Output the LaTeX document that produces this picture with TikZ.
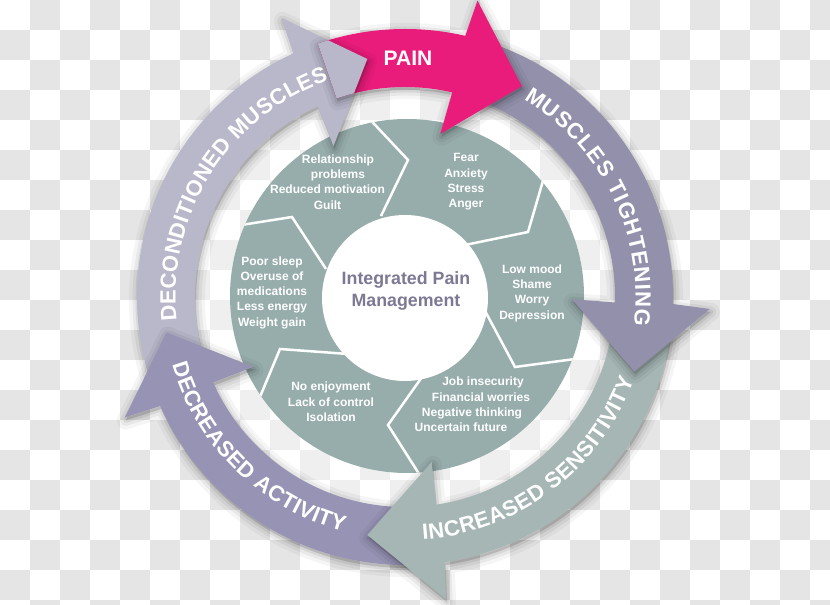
\documentclass[tikz,border=0pt]{standalone}
\usepackage{fontspec}
\setmainfont{Liberation Sans}
\usetikzlibrary{decorations.text}
\definecolor{bggray}{RGB}{229,229,229}
\definecolor{painpink}{RGB}{234,28,123}
\definecolor{mtcol}{RGB}{147,144,171}
\definecolor{iscol}{RGB}{165,182,181}
\definecolor{dacol}{RGB}{151,147,181}
\definecolor{dccol}{RGB}{185,183,202}
\definecolor{disccol}{RGB}{151,173,172}
\definecolor{centertext}{RGB}{125,120,148}
% arc arrow: tail angle, head base angle, tip angle
\newcommand\ringarrow[3]{(#1:268) arc[start angle=#1, end angle=#2, radius=268] -- ({#2-0.75}:305) -- (#3:241) -- ({#2+0.75}:167) -- (#2:210) arc[start angle=#2, end angle=#1, radius=210] -- cycle}
\newcommand\softshadow[1]{%
  \begin{scope}[shift={(1,-3)}]
    \draw[black, opacity=0.04, line width=18pt, line join=round] #1;
    \draw[black, opacity=0.05, line width=11pt, line join=round] #1;
    \draw[black, opacity=0.07, line width=5pt, line join=round] #1;
    \fill[black, opacity=0.14] #1;
  \end{scope}}
\tikzset{
  ringtext/.style={decorate, decoration={text along path, text align={fit to path}, text color=white,
      text={|\bfseries\fontsize{22}{22}\selectfont|#1}}},
  innertext/.style={text=white, font=\bfseries\fontsize{12}{15.3}\selectfont, align=center, inner sep=0pt},
  sepline/.style={white, line width=2.5pt, line join=miter},
}
\begin{document}
\begin{tikzpicture}[x=1pt, y=1pt]
\useasboundingbox (0,0) rectangle (830,605);
% checkerboard background
\begin{scope}
  \clip (0,0) rectangle (830,605);
  \fill[white] (0,0) rectangle (830,605);
  \foreach \i in {0,...,20} {
    \foreach \j in {0,...,27} {
      \pgfmathtruncatemacro\s{mod(\i+\j,2)}
      \ifnum\s=1 \fill[bggray] (30*\j, 575-30*\i) rectangle ++(30,30); \fi
    }
  }
\end{scope}
\coordinate (c) at (405,308);
\coordinate (dc) at (407,309);
% light glow in the gap
\fill[white, opacity=0.4, even odd rule] (c) circle[radius=214] (dc) circle[radius=176];
% inner disc
\begin{scope}
  \fill[disccol] (dc) circle[radius=177];
  \clip (dc) circle[radius=177];
  \draw[sepline] (381,389) -- (408,445) -- (362,494);
  \draw[sepline] (465,360) -- (528,373) -- (545,431);
  \draw[sepline] (484,296) -- (515,238) -- (590,248);
  \draw[sepline] (427,235) -- (388,180) -- (421,128);
  \draw[sepline] (348,251) -- (280,256) -- (257,201);
  \draw[sepline] (326,336) -- (292,388) -- (235,379);
\end{scope}
\fill[white] (405,307) circle[radius=83];
\node[font=\bfseries\fontsize{17.8}{22}\selectfont, text=centertext, align=center] (centre) at (406,314) {Integrated Pain\\Management};
% segment texts
\node[innertext] (rel) at (327.5,423) {\hspace*{21pt}Relationship\\\hspace*{21pt}problems\\Reduced motivation\\Guilt};
\node[innertext] (fear) at (466,423) {Fear\\Anxiety\\Stress\\Anger};
\node[innertext] (low) at (532,312) {Low mood\\Shame\\Worry\\Depression};
\node[innertext] (job) at (472,200.5) {\hspace*{22pt}Job insecurity\\\hspace*{18pt}Financial worries\\Negative thinking\\\hspace*{-22pt}Uncertain future};
\node[innertext] (noenj) at (331,203) {No enjoyment\\Lack of control\\Isolation};
\node[innertext] (poor) at (272,312.4) {Poor sleep\\Overuse of\\medications\\Less energy\\Weight gain};
% ring arrows
\begin{scope}[shift={(c)}]
  \softshadow{\ringarrow{198.5}{114.6}{99}}
  \fill[dccol] \ringarrow{198.5}{114.6}{99};
  \softshadow{\ringarrow{273}{204}{188.5}}
  \fill[dacol] \ringarrow{273}{204}{188.5};
  \softshadow{\ringarrow{-7}{-81.5}{-99}}
  \fill[iscol] \ringarrow{-7}{-81.5}{-99};
  \softshadow{\ringarrow{71}{-1.5}{-18}}
  \fill[mtcol] \ringarrow{71}{-1.5}{-18};
  \softshadow{\ringarrow{109}{77}{61}}
  \fill[painpink] \ringarrow{109}{77}{61};
  % head of DECONDITIONED MUSCLES lies over the tail of PAIN
  \begin{scope}
    \clip \ringarrow{109}{77}{61};
    \softshadow{\ringarrow{198.5}{114.6}{99}}
    \fill[dccol] \ringarrow{198.5}{114.6}{99};
  \end{scope}
  % texts on the ring
  \path[ringtext={MUSCLES TIGHTENING}] (59:230.5) arc[start angle=59, end angle=-7, radius=230.5];
  \path[ringtext={INCREASED SENSITIVITY}] (-85.8:243.5) arc[start angle=-85.8, end angle=-20, radius=243.5];
  \path[ringtext={DECREASED ACTIVITY}] (196.2:242.5) arc[start angle=196.2, end angle=255.3, radius=242.5];
  \path[ringtext={DECONDITIONED MUSCLES}] (186:229.5) arc[start angle=186, end angle=109.5, radius=229.5];
\end{scope}
\node[font=\bfseries\fontsize{21}{21}\selectfont, text=white] (pain) at (408,547) {PAIN};
\end{tikzpicture}
\end{document}
